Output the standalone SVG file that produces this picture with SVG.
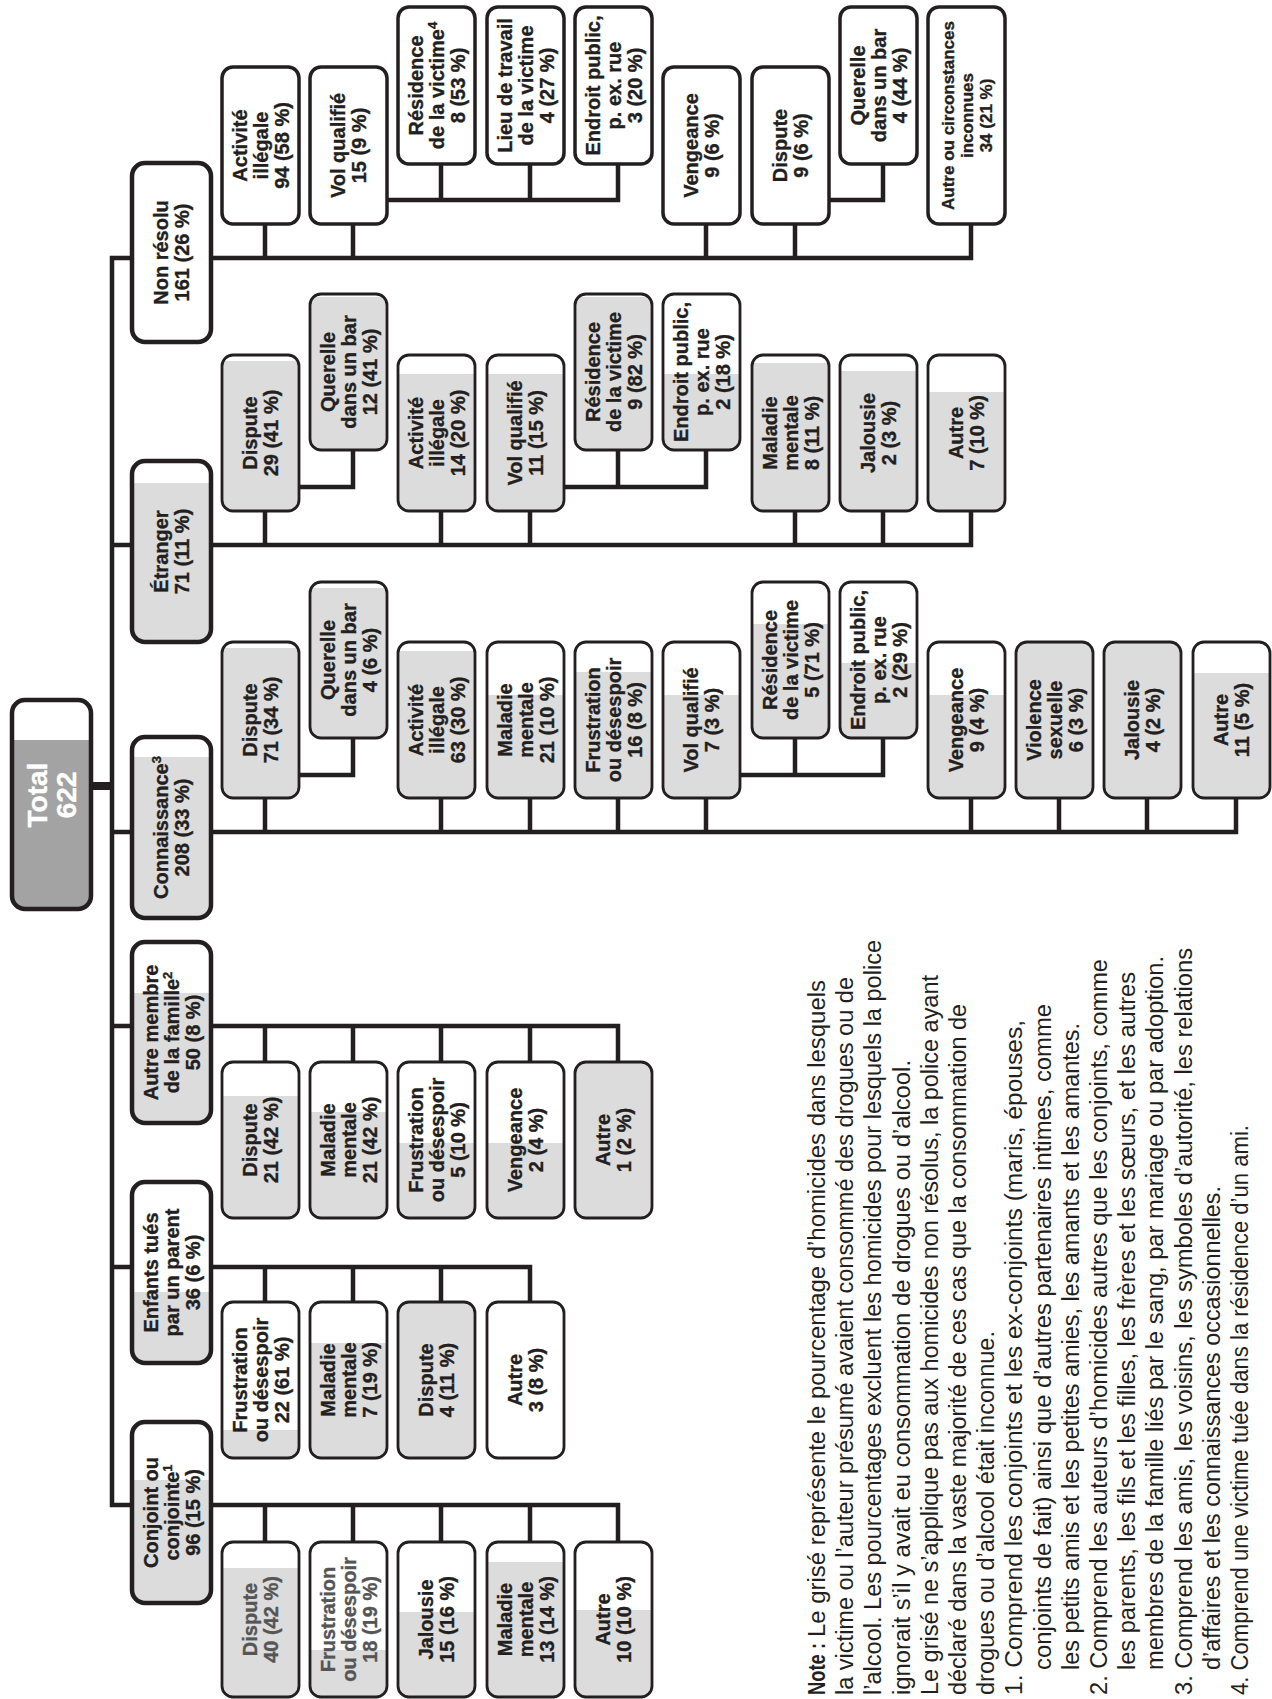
<svg xmlns="http://www.w3.org/2000/svg" width="1272" height="1699" viewBox="0 0 1272 1699">
<defs>
<style>
.c{stroke:#231f20;stroke-width:2.8}
.nr{fill:#fff;stroke:#231f20;stroke-width:3.5}
.l1{stroke:#231f20;stroke-width:4.5}
.t{font-family:"Liberation Sans",Arial,sans-serif;font-weight:bold;font-size:20px;fill:#231f20;stroke:#231f20;stroke-width:0.35;text-anchor:middle}
.ts{font-size:17px}
.tt{font-size:28px;fill:#fff;stroke:#fff}
.cn{fill:none;stroke:#231f20;stroke-width:4.5;stroke-linejoin:miter;stroke-linecap:butt}
.nt{font-family:"Liberation Sans Narrow","Liberation Sans",Arial,sans-serif;font-size:23px;fill:#231f20}
.nb{font-weight:bold}
.gr{fill:#555;stroke:#555}
</style>
<linearGradient id="g02" x2="0" y2="1"><stop offset=".02" stop-color="#fff"/><stop offset=".02" stop-color="#dcdcdd"/></linearGradient>
<linearGradient id="g04" x2="0" y2="1"><stop offset=".04" stop-color="#fff"/><stop offset=".04" stop-color="#dcdcdd"/></linearGradient>
<linearGradient id="g05" x2="0" y2="1"><stop offset=".05" stop-color="#fff"/><stop offset=".05" stop-color="#dcdcdd"/></linearGradient>
<linearGradient id="g06" x2="0" y2="1"><stop offset=".06" stop-color="#fff"/><stop offset=".06" stop-color="#dcdcdd"/></linearGradient>
<linearGradient id="g10" x2="0" y2="1"><stop offset=".10" stop-color="#fff"/><stop offset=".10" stop-color="#dcdcdd"/></linearGradient>
<linearGradient id="g11" x2="0" y2="1"><stop offset=".11" stop-color="#fff"/><stop offset=".11" stop-color="#dcdcdd"/></linearGradient>
<linearGradient id="g12" x2="0" y2="1"><stop offset=".12" stop-color="#fff"/><stop offset=".12" stop-color="#dcdcdd"/></linearGradient>
<linearGradient id="g13" x2="0" y2="1"><stop offset=".13" stop-color="#fff"/><stop offset=".13" stop-color="#dcdcdd"/></linearGradient>
<linearGradient id="g17" x2="0" y2="1"><stop offset=".17" stop-color="#fff"/><stop offset=".17" stop-color="#dcdcdd"/></linearGradient>
<linearGradient id="g19" x2="0" y2="1"><stop offset=".19" stop-color="#fff"/><stop offset=".19" stop-color="#dcdcdd"/></linearGradient>
<linearGradient id="g20" x2="0" y2="1"><stop offset=".20" stop-color="#fff"/><stop offset=".20" stop-color="#dcdcdd"/></linearGradient>
<linearGradient id="g22" x2="0" y2="1"><stop offset=".22" stop-color="#fff"/><stop offset=".22" stop-color="#dcdcdd"/></linearGradient>
<linearGradient id="g24" x2="0" y2="1"><stop offset=".24" stop-color="#fff"/><stop offset=".24" stop-color="#dcdcdd"/></linearGradient>
<linearGradient id="g26" x2="0" y2="1"><stop offset=".26" stop-color="#fff"/><stop offset=".26" stop-color="#dcdcdd"/></linearGradient>
<linearGradient id="g27" x2="0" y2="1"><stop offset=".27" stop-color="#fff"/><stop offset=".27" stop-color="#dcdcdd"/></linearGradient>
<linearGradient id="g28" x2="0" y2="1"><stop offset=".28" stop-color="#fff"/><stop offset=".28" stop-color="#dcdcdd"/></linearGradient>
<linearGradient id="g32" x2="0" y2="1"><stop offset=".32" stop-color="#fff"/><stop offset=".32" stop-color="#dcdcdd"/></linearGradient>
<linearGradient id="g34" x2="0" y2="1"><stop offset=".34" stop-color="#fff"/><stop offset=".34" stop-color="#dcdcdd"/></linearGradient>
<linearGradient id="g44" x2="0" y2="1"><stop offset=".44" stop-color="#fff"/><stop offset=".44" stop-color="#dcdcdd"/></linearGradient>
<linearGradient id="g45" x2="0" y2="1"><stop offset=".45" stop-color="#fff"/><stop offset=".45" stop-color="#dcdcdd"/></linearGradient>
<linearGradient id="g51" x2="0" y2="1"><stop offset=".51" stop-color="#fff"/><stop offset=".51" stop-color="#dcdcdd"/></linearGradient>
<linearGradient id="g52" x2="0" y2="1"><stop offset=".52" stop-color="#fff"/><stop offset=".52" stop-color="#dcdcdd"/></linearGradient>
<linearGradient id="g61" x2="0" y2="1"><stop offset=".61" stop-color="#fff"/><stop offset=".61" stop-color="#dcdcdd"/></linearGradient>
<linearGradient id="g70" x2="0" y2="1"><stop offset=".70" stop-color="#fff"/><stop offset=".70" stop-color="#dcdcdd"/></linearGradient>
<linearGradient id="g82" x2="0" y2="1"><stop offset=".82" stop-color="#fff"/><stop offset=".82" stop-color="#dcdcdd"/></linearGradient>
<linearGradient id="gt" x2="0" y2="1"><stop offset=".19" stop-color="#fff"/><stop offset=".19" stop-color="#a3a3a4"/></linearGradient>
</defs>
<rect width="1272" height="1699" fill="#fff"/>

<g id="connectors">
<path class="cn" d="M971,224 V258 H112 V1505 H618 V1542"/>
<path class="cn" d="M112,545 H971 V511"/>
<path class="cn" d="M112,832 H1236 V798"/>
<path class="cn" d="M112,1026 H618 V1062"/>
<path class="cn" d="M112,1267 H530 V1302"/>
<path class="cn" style="stroke-width:8" d="M91,786 H112"/>
<path class="cn" d="M265,224V258 M353,224V258 M706,224V258 M795,224V258"/>
<path class="cn" d="M387,200 H618 V164 M441,164V200 M530,164V200"/>
<path class="cn" d="M828,200 H883 V164"/>
<path class="cn" d="M265,511V545 M441,511V545 M530,511V545 M795,511V545 M883,511V545"/>
<path class="cn" d="M299,487 H353 V450"/>
<path class="cn" d="M564,487 H706 V450 M618,450V487"/>
<path class="cn" d="M265,798V832 M441,798V832 M530,798V832 M618,798V832 M706,798V832 M971,798V832 M1059,798V832 M1147,798V832"/>
<path class="cn" d="M299,775 H353 V738"/>
<path class="cn" d="M740,775 H883 V738 M795,738V775"/>
<path class="cn" d="M265,1026V1062 M353,1026V1062 M441,1026V1062 M530,1026V1062"/>
<path class="cn" d="M265,1267V1302 M353,1267V1302 M441,1267V1302"/>
<path class="cn" d="M265,1505V1542 M353,1505V1542 M441,1505V1542 M530,1505V1542"/>
</g>

<g id="total"><rect x="12" y="700" width="79" height="209" rx="13" fill="url(#gt)" stroke="#231f20" stroke-width="4.5"/>
<text class="t tt" transform="translate(51.5,795) rotate(-90)"><tspan x="0" y="-4.5">Total</tspan><tspan x="0" y="24">622</tspan></text></g>

<g id="nonresolu"><rect class="nr" style="stroke-width:4.5" x="132" y="163" width="79" height="179" rx="13"/>
<text class="t" transform="translate(171.5,252.5) rotate(-90)"><tspan x="0" y="-3.5">Non résolu</tspan><tspan x="0" y="17.5">161 (26 %)</tspan></text></g>
<g id="etranger"><rect class="l1" x="132" y="461" width="79" height="181" rx="13" fill="url(#g12)"/>
<text class="t" transform="translate(171.5,551.5) rotate(-90)"><tspan x="0" y="-3.5">Étranger</tspan><tspan x="0" y="17.5">71 (11 %)</tspan></text></g>
<g id="connaissance"><rect class="l1" x="132" y="737" width="79" height="181" rx="13" fill="url(#g11)"/>
<text class="t" transform="translate(171.5,827.5) rotate(-90)"><tspan x="0" y="-3.5">Connaissance<tspan font-size="13" dy="-7">3</tspan></tspan><tspan x="0" y="17.5">208 (33 %)</tspan></text></g>
<g id="autremembre"><rect class="l1" x="132" y="942" width="79" height="181" rx="13" fill="url(#g28)"/>
<text class="t" transform="translate(171.5,1032.5) rotate(-90)"><tspan x="0" y="-14">Autre membre</tspan><tspan x="0" y="7">de la famille<tspan font-size="13" dy="-7">2</tspan></tspan><tspan x="0" y="28">50 (8 %)</tspan></text></g>
<g id="enfants"><rect class="l1" x="132" y="1182" width="79" height="181" rx="13" fill="url(#g61)"/>
<text class="t" transform="translate(171.5,1272.5) rotate(-90)"><tspan x="0" y="-14">Enfants tués</tspan><tspan x="0" y="7">par un parent</tspan><tspan x="0" y="28">36 (6 %)</tspan></text></g>
<g id="conjoint"><rect class="l1" x="132" y="1422" width="79" height="181" rx="13" fill="url(#g32)"/>
<text class="t" transform="translate(171.5,1512.5) rotate(-90)"><tspan x="0" y="-14">Conjoint ou</tspan><tspan x="0" y="7">conjointe<tspan font-size="13" dy="-7">1</tspan></tspan><tspan x="0" y="28">96 (15 %)</tspan></text></g>

<g id="nr-activite"><rect class="nr" x="222" y="67" width="77" height="157" rx="11"/>
<text class="t" transform="translate(260.5,145.5) rotate(-90)"><tspan x="0" y="-14">Activité</tspan><tspan x="0" y="7">illégale</tspan><tspan x="0" y="28">94 (58 %)</tspan></text></g>
<g id="nr-vol"><rect class="nr" x="310" y="67" width="77" height="157" rx="11"/>
<text class="t" transform="translate(348.5,145.5) rotate(-90)"><tspan x="0" y="-3.5">Vol qualifié</tspan><tspan x="0" y="17.5">15 (9 %)</tspan></text></g>
<g id="nr-residence"><rect class="nr" x="398" y="7" width="77" height="157" rx="11"/>
<text class="t" transform="translate(436.5,85.5) rotate(-90)"><tspan x="0" y="-14">Résidence</tspan><tspan x="0" y="7">de la victime<tspan font-size="13" dy="-7">4</tspan></tspan><tspan x="0" y="28">8 (53 %)</tspan></text></g>
<g id="nr-lieu"><rect class="nr" x="487" y="7" width="77" height="157" rx="11"/>
<text class="t" transform="translate(525.5,85.5) rotate(-90)"><tspan x="0" y="-14">Lieu de travail</tspan><tspan x="0" y="7">de la victime</tspan><tspan x="0" y="28">4 (27 %)</tspan></text></g>
<g id="nr-endroit"><rect class="nr" x="575" y="7" width="77" height="157" rx="11"/>
<text class="t" transform="translate(613.5,85.5) rotate(-90)"><tspan x="0" y="-14">Endroit public,</tspan><tspan x="0" y="7">p. ex. rue</tspan><tspan x="0" y="28">3 (20 %)</tspan></text></g>
<g id="nr-vengeance"><rect class="nr" x="663" y="67" width="77" height="157" rx="11"/>
<text class="t" transform="translate(701.5,145.5) rotate(-90)"><tspan x="0" y="-3.5">Vengeance</tspan><tspan x="0" y="17.5">9 (6 %)</tspan></text></g>
<g id="nr-dispute"><rect class="nr" x="752" y="67" width="77" height="157" rx="11"/>
<text class="t" transform="translate(790.5,145.5) rotate(-90)"><tspan x="0" y="-3.5">Dispute</tspan><tspan x="0" y="17.5">9 (6 %)</tspan></text></g>
<g id="nr-querelle"><rect class="nr" x="840" y="7" width="77" height="157" rx="11"/>
<text class="t" transform="translate(878.5,85.5) rotate(-90)"><tspan x="0" y="-14">Querelle</tspan><tspan x="0" y="7">dans un bar</tspan><tspan x="0" y="28">4 (44 %)</tspan></text></g>
<g id="nr-autre"><rect class="nr" x="928" y="7" width="77" height="217" rx="11"/>
<text class="t ts" transform="translate(966.5,115.5) rotate(-90)"><tspan x="0" y="-13">Autre ou circonstances</tspan><tspan x="0" y="6">inconnues</tspan><tspan x="0" y="25">34 (21 %)</tspan></text></g>

<g id="et-dispute"><rect class="c" x="222" y="355" width="77" height="156" rx="11" fill="url(#g04)"/>
<text class="t" transform="translate(260.5,433) rotate(-90)"><tspan x="0" y="-3.5">Dispute</tspan><tspan x="0" y="17.5">29 (41 %)</tspan></text></g>
<g id="et-querelle"><rect class="c" x="310" y="294" width="77" height="156" rx="11" fill="url(#g02)"/>
<text class="t" transform="translate(348.5,372) rotate(-90)"><tspan x="0" y="-14">Querelle</tspan><tspan x="0" y="7">dans un bar</tspan><tspan x="0" y="28">12 (41 %)</tspan></text></g>
<g id="et-activite"><rect class="c" x="398" y="355" width="77" height="156" rx="11" fill="url(#g12)"/>
<text class="t" transform="translate(436.5,433) rotate(-90)"><tspan x="0" y="-14">Activité</tspan><tspan x="0" y="7">illégale</tspan><tspan x="0" y="28">14 (20 %)</tspan></text></g>
<g id="et-vol"><rect class="c" x="487" y="355" width="77" height="156" rx="11" fill="url(#g12)"/>
<text class="t" transform="translate(525.5,433) rotate(-90)"><tspan x="0" y="-3.5">Vol qualifié</tspan><tspan x="0" y="17.5">11 (15 %)</tspan></text></g>
<g id="et-residence"><rect class="c" x="575" y="294" width="77" height="156" rx="11" fill="url(#g02)"/>
<text class="t" transform="translate(613.5,372) rotate(-90)"><tspan x="0" y="-14">Résidence</tspan><tspan x="0" y="7">de la victime</tspan><tspan x="0" y="28">9 (82 %)</tspan></text></g>
<g id="et-endroit"><rect class="c" x="663" y="294" width="77" height="156" rx="11" fill="url(#g51)"/>
<text class="t" transform="translate(701.5,372) rotate(-90)"><tspan x="0" y="-14">Endroit public,</tspan><tspan x="0" y="7">p. ex. rue</tspan><tspan x="0" y="28">2 (18 %)</tspan></text></g>
<g id="et-maladie"><rect class="c" x="752" y="355" width="77" height="156" rx="11" fill="url(#g05)"/>
<text class="t" transform="translate(790.5,433) rotate(-90)"><tspan x="0" y="-14">Maladie</tspan><tspan x="0" y="7">mentale</tspan><tspan x="0" y="28">8 (11 %)</tspan></text></g>
<g id="et-jalousie"><rect class="c" x="840" y="355" width="77" height="156" rx="11" fill="url(#g10)"/>
<text class="t" transform="translate(878.5,433) rotate(-90)"><tspan x="0" y="-3.5">Jalousie</tspan><tspan x="0" y="17.5">2 (3 %)</tspan></text></g>
<g id="et-autre"><rect class="c" x="928" y="355" width="77" height="156" rx="11" fill="url(#g24)"/>
<text class="t" transform="translate(966.5,433) rotate(-90)"><tspan x="0" y="-3.5">Autre</tspan><tspan x="0" y="17.5">7 (10 %)</tspan></text></g>

<g id="co-dispute"><rect class="c" x="222" y="642" width="77" height="156" rx="11" fill="url(#g04)"/>
<text class="t" transform="translate(260.5,720) rotate(-90)"><tspan x="0" y="-3.5">Dispute</tspan><tspan x="0" y="17.5">71 (34 %)</tspan></text></g>
<g id="co-querelle"><rect class="c" x="310" y="582" width="77" height="156" rx="11" fill="url(#g04)"/>
<text class="t" transform="translate(348.5,660) rotate(-90)"><tspan x="0" y="-14">Querelle</tspan><tspan x="0" y="7">dans un bar</tspan><tspan x="0" y="28">4 (6 %)</tspan></text></g>
<g id="co-activite"><rect class="c" x="398" y="642" width="77" height="156" rx="11" fill="url(#g06)"/>
<text class="t" transform="translate(436.5,720) rotate(-90)"><tspan x="0" y="-14">Activité</tspan><tspan x="0" y="7">illégale</tspan><tspan x="0" y="28">63 (30 %)</tspan></text></g>
<g id="co-maladie"><rect class="c" x="487" y="642" width="77" height="156" rx="11" fill="url(#g34)"/>
<text class="t" transform="translate(525.5,720) rotate(-90)"><tspan x="0" y="-14">Maladie</tspan><tspan x="0" y="7">mentale</tspan><tspan x="0" y="28">21 (10 %)</tspan></text></g>
<g id="co-frustration"><rect class="c" x="575" y="642" width="77" height="156" rx="11" fill="url(#g19)"/>
<text class="t" transform="translate(613.5,720) rotate(-90)"><tspan x="0" y="-14">Frustration</tspan><tspan x="0" y="7">ou désespoir</tspan><tspan x="0" y="28">16 (8 %)</tspan></text></g>
<g id="co-vol"><rect class="c" x="663" y="642" width="77" height="156" rx="11" fill="url(#g34)"/>
<text class="t" transform="translate(701.5,720) rotate(-90)"><tspan x="0" y="-3.5">Vol qualifié</tspan><tspan x="0" y="17.5">7 (3 %)</tspan></text></g>
<g id="co-residence"><rect class="c" x="752" y="582" width="77" height="156" rx="11" fill="url(#g27)"/>
<text class="t" transform="translate(790.5,660) rotate(-90)"><tspan x="0" y="-14">Résidence</tspan><tspan x="0" y="7">de la victime</tspan><tspan x="0" y="28">5 (71 %)</tspan></text></g>
<g id="co-endroit"><rect class="c" x="840" y="582" width="77" height="156" rx="11" fill="url(#g52)"/>
<text class="t" transform="translate(878.5,660) rotate(-90)"><tspan x="0" y="-14">Endroit public,</tspan><tspan x="0" y="7">p. ex. rue</tspan><tspan x="0" y="28">2 (29 %)</tspan></text></g>
<g id="co-vengeance"><rect class="c" x="928" y="642" width="77" height="156" rx="11" fill="url(#g34)"/>
<text class="t" transform="translate(966.5,720) rotate(-90)"><tspan x="0" y="-3.5">Vengeance</tspan><tspan x="0" y="17.5">9 (4 %)</tspan></text></g>
<g id="co-violence"><rect class="c" x="1016" y="642" width="77" height="156" rx="11" fill="#dcdcdd"/>
<text class="t" transform="translate(1054.5,720) rotate(-90)"><tspan x="0" y="-14">Violence</tspan><tspan x="0" y="7">sexuelle</tspan><tspan x="0" y="28">6 (3 %)</tspan></text></g>
<g id="co-jalousie"><rect class="c" x="1104" y="642" width="77" height="156" rx="11" fill="#dcdcdd"/>
<text class="t" transform="translate(1142.5,720) rotate(-90)"><tspan x="0" y="-3.5">Jalousie</tspan><tspan x="0" y="17.5">4 (2 %)</tspan></text></g>
<g id="co-autre"><rect class="c" x="1193" y="642" width="77" height="156" rx="11" fill="url(#g20)"/>
<text class="t" transform="translate(1231.5,720) rotate(-90)"><tspan x="0" y="-3.5">Autre</tspan><tspan x="0" y="17.5">11 (5 %)</tspan></text></g>

<g id="am-dispute"><rect class="c" x="222" y="1062" width="77" height="156" rx="11" fill="url(#g22)"/>
<text class="t" transform="translate(260.5,1140) rotate(-90)"><tspan x="0" y="-3.5">Dispute</tspan><tspan x="0" y="17.5">21 (42 %)</tspan></text></g>
<g id="am-maladie"><rect class="c" x="310" y="1062" width="77" height="156" rx="11" fill="url(#g32)"/>
<text class="t" transform="translate(348.5,1140) rotate(-90)"><tspan x="0" y="-14">Maladie</tspan><tspan x="0" y="7">mentale</tspan><tspan x="0" y="28">21 (42 %)</tspan></text></g>
<g id="am-frustration"><rect class="c" x="398" y="1062" width="77" height="156" rx="11" fill="url(#g52)"/>
<text class="t" transform="translate(436.5,1140) rotate(-90)"><tspan x="0" y="-14">Frustration</tspan><tspan x="0" y="7">ou désespoir</tspan><tspan x="0" y="28">5 (10 %)</tspan></text></g>
<g id="am-vengeance"><rect class="c" x="487" y="1062" width="77" height="156" rx="11" fill="url(#g52)"/>
<text class="t" transform="translate(525.5,1140) rotate(-90)"><tspan x="0" y="-3.5">Vengeance</tspan><tspan x="0" y="17.5">2 (4 %)</tspan></text></g>
<g id="am-autre"><rect class="c" x="575" y="1062" width="77" height="156" rx="11" fill="#dcdcdd"/>
<text class="t" transform="translate(613.5,1140) rotate(-90)"><tspan x="0" y="-3.5">Autre</tspan><tspan x="0" y="17.5">1 (2 %)</tspan></text></g>

<g id="en-frustration"><rect class="c" x="222" y="1302" width="77" height="156" rx="11" fill="url(#g82)"/>
<text class="t" transform="translate(260.5,1380) rotate(-90)"><tspan x="0" y="-14">Frustration</tspan><tspan x="0" y="7">ou désespoir</tspan><tspan x="0" y="28">22 (61 %)</tspan></text></g>
<g id="en-maladie"><rect class="c" x="310" y="1302" width="77" height="156" rx="11" fill="url(#g26)"/>
<text class="t" transform="translate(348.5,1380) rotate(-90)"><tspan x="0" y="-14">Maladie</tspan><tspan x="0" y="7">mentale</tspan><tspan x="0" y="28">7 (19 %)</tspan></text></g>
<g id="en-dispute"><rect class="c" x="398" y="1302" width="77" height="156" rx="11" fill="#dcdcdd"/>
<text class="t" transform="translate(436.5,1380) rotate(-90)"><tspan x="0" y="-3.5">Dispute</tspan><tspan x="0" y="17.5">4 (11 %)</tspan></text></g>
<g id="en-autre"><rect class="c" x="487" y="1302" width="77" height="156" rx="11" fill="#fff"/>
<text class="t" transform="translate(525.5,1380) rotate(-90)"><tspan x="0" y="-3.5">Autre</tspan><tspan x="0" y="17.5">3 (8 %)</tspan></text></g>

<g id="cj-dispute"><rect class="c" x="222" y="1542" width="77" height="155" rx="11" fill="url(#g17)"/>
<text class="t gr" transform="translate(260.5,1619.5) rotate(-90)"><tspan x="0" y="-3.5">Dispute</tspan><tspan x="0" y="17.5">40 (42 %)</tspan></text></g>
<g id="cj-frustration"><rect class="c" x="310" y="1542" width="77" height="155" rx="11" fill="url(#g70)"/>
<text class="t gr" transform="translate(348.5,1619.5) rotate(-90)"><tspan x="0" y="-14">Frustration</tspan><tspan x="0" y="7">ou désespoir</tspan><tspan x="0" y="28">18 (19 %)</tspan></text></g>
<g id="cj-jalousie"><rect class="c" x="398" y="1542" width="77" height="155" rx="11" fill="url(#g45)"/>
<text class="t" transform="translate(436.5,1619.5) rotate(-90)"><tspan x="0" y="-3.5">Jalousie</tspan><tspan x="0" y="17.5">15 (16 %)</tspan></text></g>
<g id="cj-maladie"><rect class="c" x="487" y="1542" width="77" height="155" rx="11" fill="url(#g13)"/>
<text class="t" transform="translate(525.5,1619.5) rotate(-90)"><tspan x="0" y="-14">Maladie</tspan><tspan x="0" y="7">mentale</tspan><tspan x="0" y="28">13 (14 %)</tspan></text></g>
<g id="cj-autre"><rect class="c" x="575" y="1542" width="77" height="155" rx="11" fill="url(#g44)"/>
<text class="t" transform="translate(613.5,1619.5) rotate(-90)"><tspan x="0" y="-3.5">Autre</tspan><tspan x="0" y="17.5">10 (10 %)</tspan></text></g>

<g id="notes">
<text class="nt nb" transform="translate(825,1695) rotate(-90)" textLength="52" lengthAdjust="spacingAndGlyphs">Note :</text>
<text class="nt" transform="translate(825,1637) rotate(-90)" textLength="657" lengthAdjust="spacingAndGlyphs">Le grisé représente le pourcentage d’homicides dans lesquels</text>
<text class="nt" transform="translate(853.2,1695) rotate(-90)" textLength="718" lengthAdjust="spacingAndGlyphs">la victime ou l’auteur présumé avaient consommé des drogues ou de</text>
<text class="nt" transform="translate(881.4,1695) rotate(-90)" textLength="755" lengthAdjust="spacingAndGlyphs">l’alcool. Les pourcentages excluent les homicides pour lesquels la police</text>
<text class="nt" transform="translate(909.6,1695) rotate(-90)" textLength="635" lengthAdjust="spacingAndGlyphs">ignorait s’il y avait eu consommation de drogues ou d’alcool.</text>
<text class="nt" transform="translate(937.8,1695) rotate(-90)" textLength="720" lengthAdjust="spacingAndGlyphs">Le grisé ne s’applique pas aux homicides non résolus, la police ayant</text>
<text class="nt" transform="translate(966,1695) rotate(-90)" textLength="691" lengthAdjust="spacingAndGlyphs">déclaré dans la vaste majorité de ces cas que la consommation de</text>
<text class="nt" transform="translate(994.2,1695) rotate(-90)" textLength="364" lengthAdjust="spacingAndGlyphs">drogues ou d’alcool était inconnue.</text>
<text class="nt" transform="translate(1022.4,1695) rotate(-90)" textLength="675" lengthAdjust="spacingAndGlyphs">1. Comprend les conjoints et les ex-conjoints (maris, épouses,</text>
<text class="nt" transform="translate(1050.6,1670) rotate(-90)" textLength="666" lengthAdjust="spacingAndGlyphs">conjoints de fait) ainsi que d’autres partenaires intimes, comme</text>
<text class="nt" transform="translate(1078.8,1670) rotate(-90)" textLength="647" lengthAdjust="spacingAndGlyphs">les petits amis et les petites amies, les amants et les amantes.</text>
<text class="nt" transform="translate(1107,1695) rotate(-90)" textLength="736" lengthAdjust="spacingAndGlyphs">2. Comprend les auteurs d’homicides autres que les conjoints, comme</text>
<text class="nt" transform="translate(1135.2,1670) rotate(-90)" textLength="698" lengthAdjust="spacingAndGlyphs">les parents, les fils et les filles, les frères et les sœurs, et les autres</text>
<text class="nt" transform="translate(1163.4,1670) rotate(-90)" textLength="714" lengthAdjust="spacingAndGlyphs">membres de la famille liés par le sang, par mariage ou par adoption.</text>
<text class="nt" transform="translate(1191.6,1695) rotate(-90)" textLength="747" lengthAdjust="spacingAndGlyphs">3. Comprend les amis, les voisins, les symboles d’autorité, les relations</text>
<text class="nt" transform="translate(1219.8,1670) rotate(-90)" textLength="484" lengthAdjust="spacingAndGlyphs">d’affaires et les connaissances occasionnelles.</text>
<text class="nt" transform="translate(1248,1695) rotate(-90)" textLength="570" lengthAdjust="spacingAndGlyphs">4. Comprend une victime tuée dans la résidence d’un ami.</text>
</g>
</svg>
